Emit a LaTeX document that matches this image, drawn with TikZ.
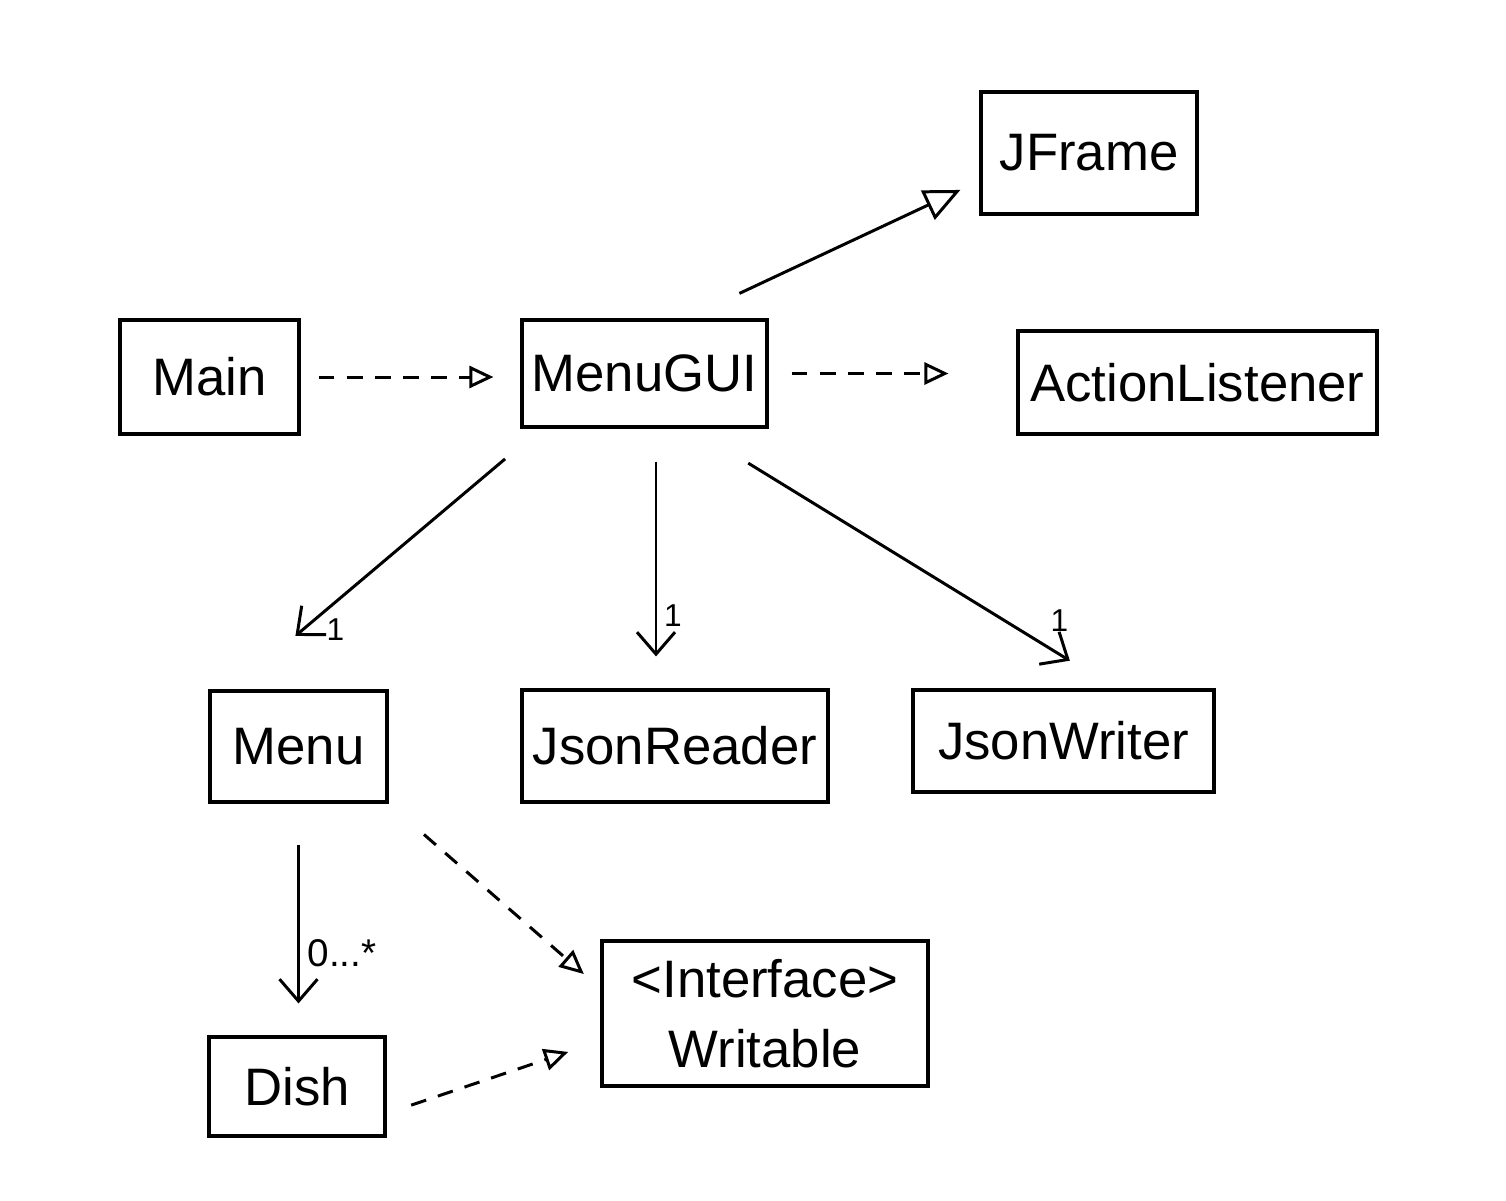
\documentclass[tikz,border=0pt]{standalone}
\usepackage{fontspec}
\setmainfont{Liberation Sans}
\usetikzlibrary{arrows.meta}

\begin{document}
\begin{tikzpicture}[
    cls/.style={draw, line width=0.9pt, inner sep=0pt, font=\fontsize{15}{20}\selectfont},
    mult/.style={font=\fontsize{9}{10}\selectfont, inner sep=0pt},
    assoc/.style={-{Straight Barb[length=0.22cm,width=0.38cm]}, line width=0.85pt},
    inherit/.style={-{Triangle[open,length=0.36cm,width=0.32cm]}, line width=0.85pt},
    realize/.style={-{Triangle[open,length=0.24cm,width=0.22cm]}, line width=0.85pt, dash pattern=on 4.5pt off 3.5pt}
  ]
    \useasboundingbox (0,0) rectangle (15.06,-12);
    % 类
    \node[cls, minimum width=2.16cm, minimum height=1.22cm] (jframe) at (10.89,-1.53) {JFrame};
    \node[cls, minimum width=1.79cm, minimum height=1.14cm] (main) at (2.095,-3.77) {Main};
    \node[cls, minimum width=2.45cm, minimum height=1.07cm] (gui) at (6.445,-3.735) {MenuGUI};
    \node[cls, minimum width=3.59cm, minimum height=1.03cm] (listener) at (11.975,-3.825) {ActionListener};
    \node[cls, minimum width=1.77cm, minimum height=1.11cm] (menu) at (2.985,-7.465) {Menu};
    \node[cls, minimum width=3.06cm, minimum height=1.12cm] (reader) at (6.75,-7.46) {JsonReader};
    \node[cls, minimum width=3.01cm, minimum height=1.02cm] (writer) at (10.635,-7.41) {JsonWriter};
    \node[cls, minimum width=3.26cm, minimum height=1.45cm, align=center] (writable) at (7.65,-10.135) {<Interface>\\Writable};
    \node[cls, minimum width=1.76cm, minimum height=0.99cm] (dish) at (2.97,-10.865) {Dish};
    % 继承与实现
    \draw[inherit, shorten <=0.59cm, shorten >=0.21cm] ([xshift=0.415cm]gui.north) -- ([yshift=-0.28cm]jframe.west);
    \draw[realize, shorten <=0.18cm, shorten >=0.27cm] (main.east) -- (main.east -| gui.west);
    \draw[realize, shorten <=0.23cm, shorten >=0.68cm] (gui.east) -- (gui.east -| listener.west);
    \draw[realize, shorten <=0.47cm, shorten >=0.22cm] (menu.south east) -- ([yshift=0.25cm]writable.west);
    \draw[realize, shorten <=0.26cm, shorten >=0.34cm] ([yshift=-0.27cm]dish.east) -- ([yshift=-0.275cm]writable.west);
    % 关联
    \draw[assoc, shorten <=0.47cm, shorten >=0.83cm] ([xshift=-1.035cm]gui.south) -- ([xshift=-0.665cm]menu.north);
    \draw[assoc, shorten <=0.33cm, shorten >=0.32cm] ([xshift=0.115cm]gui.south) -- ([xshift=0.115cm]gui.south |- reader.north);
    \draw[assoc, shorten <=0.66cm, shorten >=0.53cm] ([xshift=0.475cm]gui.south) -- ([xshift=0.515cm]writer.north);
    \draw[assoc, shorten <=0.41cm, shorten >=0.32cm] (menu.south) -- (menu.south |- dish.north);
    % 多重性
    \node[mult] (m1menu) at ([xshift=0.37cm,yshift=0.6cm]menu.north) {1};
    \node[mult] (m1reader) at ([xshift=-0.02cm,yshift=0.73cm]reader.north) {1};
    \node[mult] (m1writer) at ([xshift=-0.04cm,yshift=0.68cm]writer.north) {1};
    \node[mult, anchor=west, font=\fontsize{11}{12}\selectfont] (mdish) at ([xshift=0.1cm,yshift=0.82cm]dish.north) {0...*};
  \end{tikzpicture}
\end{document}
